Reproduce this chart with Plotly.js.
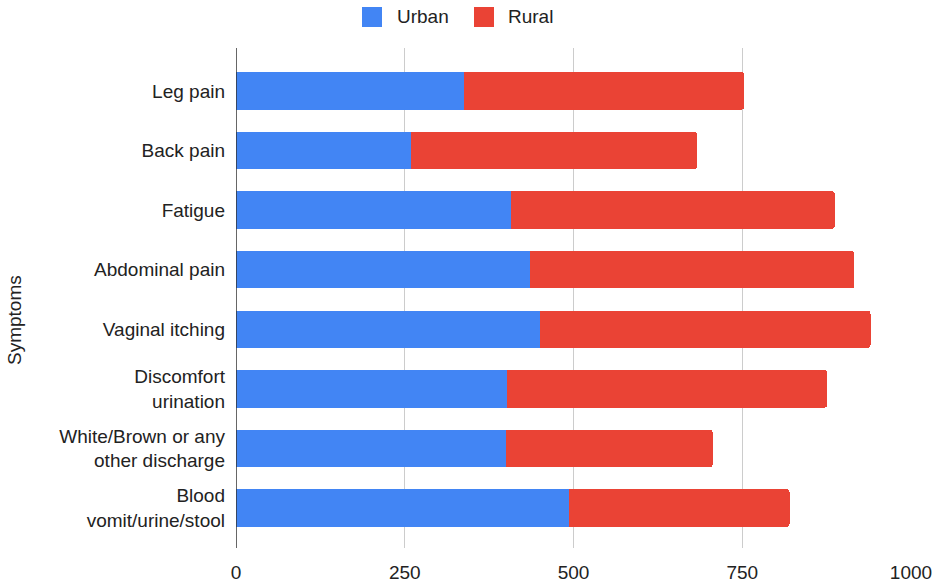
<!DOCTYPE html>
<html>
<head>
<meta charset="utf-8">
<script src="https://cdn.plot.ly/plotly-3.0.1.min.js"></script>
<style>
  html, body { margin: 0; padding: 0; background: #ffffff; }
  #chart { width: 941px; height: 584px; }
</style>
</head>
<body>
<div id="chart"></div>
<script>
// Symptom categories, top to bottom
const symptoms = [
  "Leg pain",
  "Back pain",
  "Fatigue",
  "Abdominal pain",
  "Vaginal itching",
  "Discomfort<br>urination",
  "White/Brown or any<br>other discharge",
  "Blood<br>vomit/urine/stool"
];

// Counts per group
const urban = [338, 259, 407, 436, 450, 402, 400, 493];
const rural = [415, 424, 480, 480, 490, 474, 306, 327];

const seriesNames = ["Urban", "Rural"];
const seriesColors = ["#4285F4", "#EA4335"];

const xTicks = [0, 250, 500, 750, 1000];

const fontFamily = "'Liberation Sans', Arial, sans-serif";
const fontSize = 19;
const textColor = "#222222";

// Plot area in pixels
const W = 941, H = 584;
const M = { l: 236, r: 30, t: 48, b: 36 };
const plotW = W - M.l - M.r;
const plotH = H - M.t - M.b;
const px2x = px => (px - M.l) / plotW;
const px2y = py => (H - M.b - py) / plotH;

const traces = [urban, rural].map((vals, i) => ({
  type: "bar",
  orientation: "h",
  name: seriesNames[i],
  y: symptoms,
  x: vals,
  marker: { color: seriesColors[i] },
  width: 0.63,
  showlegend: false,
  hoverinfo: "x+y+name"
}));

// Legend: colour swatch + label for each series, centred above the plot
const legendItems = [
  { sq: 362, label: 395 },
  { sq: 474, label: 506 }
];
const legendShapes = legendItems.map((it, i) => ({
  type: "rect",
  xref: "paper", yref: "paper",
  x0: px2x(it.sq), x1: px2x(it.sq + 20),
  y0: px2y(27), y1: px2y(7),
  fillcolor: seriesColors[i],
  line: { width: 0 }
}));
const legendLabels = legendItems.map((it, i) => ({
  text: seriesNames[i],
  xref: "paper", yref: "paper",
  x: px2x(it.label), y: px2y(17),
  xanchor: "left", yanchor: "middle",
  showarrow: false,
  font: { family: fontFamily, size: fontSize, color: textColor }
}));

const layout = {
  width: W,
  height: H,
  margin: M,
  paper_bgcolor: "#ffffff",
  plot_bgcolor: "#ffffff",
  barmode: "stack",
  barcornerradius: 3,
  font: { family: fontFamily, size: fontSize, color: textColor },
  showlegend: false,
  xaxis: {
    range: [0, 1000],
    tickvals: xTicks,
    ticktext: xTicks.map(String),
    showgrid: true,
    gridcolor: "#cccccc",
    gridwidth: 1,
    zeroline: false,
    showline: false,
    ticks: "",
    ticklabelstandoff: 11,
    tickfont: { family: fontFamily, size: fontSize, color: textColor },
    fixedrange: true
  },
  yaxis: {
    range: [7.67, -0.72],
    showgrid: false,
    zeroline: false,
    showline: false,
    ticks: "",
    ticklabelstandoff: 10,
    tickfont: { family: fontFamily, size: fontSize, color: textColor },
    fixedrange: true
  },
  shapes: [
    {
      type: "line",
      xref: "x",
      yref: "paper",
      x0: 0, x1: 0,
      y0: 0, y1: 1,
      line: { color: "#333333", width: 1.5 }
    }
  ].concat(legendShapes),
  annotations: [
    {
      text: "Symptoms",
      xref: "paper",
      yref: "paper",
      x: px2x(14),
      y: px2y(320),
      xanchor: "center",
      yanchor: "middle",
      textangle: -90,
      showarrow: false,
      font: { family: fontFamily, size: fontSize, color: textColor }
    }
  ].concat(legendLabels)
};

Plotly.newPlot("chart", traces, layout, { displayModeBar: false, staticPlot: true });
</script>
</body>
</html>
